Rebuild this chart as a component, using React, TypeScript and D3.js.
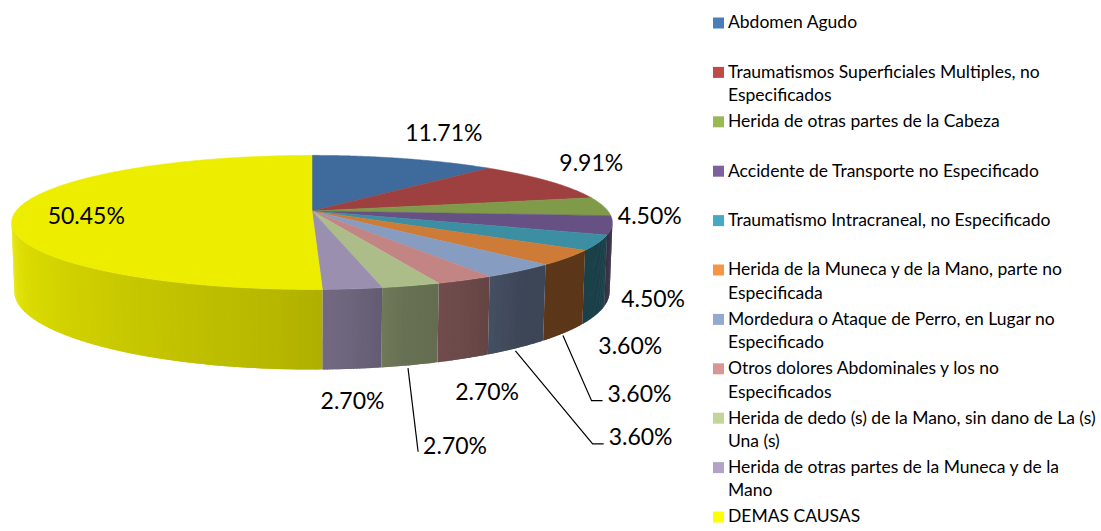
import { useEffect, useRef } from "react";
import * as d3 from "d3";

const categories = [
  "Abdomen Agudo",
  "Traumatismos Superficiales Multiples, no\nEspecificados",
  "Herida de otras partes de la Cabeza",
  "Accidente de Transporte no Especificado",
  "Traumatismo Intracraneal, no Especificado",
  "Herida de la Muneca y de la Mano, parte no\nEspecificada",
  "Mordedura o Ataque de Perro, en Lugar no\nEspecificado",
  "Otros dolores Abdominales y los no\nEspecificados",
  "Herida de dedo (s) de la Mano, sin dano de La (s)\nUna (s)",
  "Herida de otras partes de la Muneca y de la\nMano",
  "DEMAS CAUSAS",
];
const values = [11.71, 9.91, 4.5, 4.5, 3.6, 3.6, 3.6, 2.7, 2.7, 2.7, 50.45];
const labels = ["11.71%", "9.91%", "4.50%", "4.50%", "3.60%", "3.60%", "3.60%", "2.70%", "2.70%", "2.70%", "50.45%"];

const legendColors = ["#4a7ebb", "#be4b48", "#98b954", "#7d60a0", "#46aac5", "#f69546", "#94a8d0", "#d99694", "#c2d69a", "#b3a2c7", "#ffff00"];
const topColors = ["#3f6a9c", "#9d403f", "#7f9a48", "#675184", "#3c8ea3", "#cd7b37", "#879cc1", "#c38584", "#adbd8a", "#9b8fb0", "#eded00"];

// label centre offsets from the top rim point at each slice's middle angle
const labelOffsets = [[40, -26], [43, -18], [46, 9], [41, 73], [32, 103], [72, 136], [121, 166], [22, 112], [44, 160], [0, 112], [71, 4]];
// 0 = no leader, 1 = straight leader, 2 = leader with elbow
const leaders = [0, 0, 0, 0, 0, 2, 2, 0, 1, 0, 0];

const W = 1101;
const H = 531;

export default function App() {
  const ref = useRef<SVGSVGElement>(null);

  useEffect(() => {
    const svg = d3.select(ref.current);
    svg.selectAll("*").remove();

    const font = "Lato, 'Open Sans', sans-serif";

    // 3d pie projection
    const cx = 312, cy = 211, S = 296, D = 5.73, t = 0.235;
    const phi = Math.asin(0.22);
    const project = (theta: number, r: number, h: number): [number, number] => {
      const x = r * Math.sin(theta);
      const z = r * Math.cos(theta);
      const d = z * Math.cos(phi) - h * Math.sin(phi);
      const v = z * Math.sin(phi) + h * Math.cos(phi);
      const s = D / (D + d);
      return [cx + S * x * s, cy - S * v * s];
    };

    const arcs = d3.pie<number>().sort(null).value((d) => d)(values);

    const shade = d3
      .scaleLinear()
      .domain([90, 120, 142, 155, 165, 175, 185, 270])
      .range([0.4, 0.45, 0.45, 0.56, 0.6, 0.72, 0.77, 1.0])
      .clamp(true);

    const line = d3.line();
    const g = svg.append("g");

    // sides: thin overlapping quads on the front half, far ones first
    const lo = Math.acos(-Math.cos(phi) / D) - 0.01;
    const hi = 2 * Math.PI - lo;
    const step = Math.PI / 360;
    const quads: { pts: [number, number][]; depth: number; fill: string }[] = [];
    arcs.forEach((a, i) => {
      const s0 = Math.max(a.startAngle, lo);
      const s1 = Math.min(a.endAngle, hi);
      if (s1 <= s0) return;
      const n = Math.max(1, Math.ceil((s1 - s0) / step));
      const st = (s1 - s0) / n;
      const c = d3.rgb(topColors[i]);
      for (let k = 0; k < n; k++) {
        const t0 = s0 + k * st;
        const t1 = Math.min(s1, t0 + st * 1.8);
        const tm = t0 + st / 2;
        const f = shade((tm * 180) / Math.PI);
        quads.push({
          pts: [project(t0, 1, 0), project(t1, 1, 0), project(t1, 1, -t), project(t0, 1, -t)],
          depth: Math.cos(tm),
          fill: d3.rgb(c.r * f, c.g * f, c.b * f).formatHex(),
        });
      }
    });
    quads.sort((p, q) => q.depth - p.depth);

    g.selectAll("path.side")
      .data(quads)
      .enter()
      .append("path")
      .attr("class", "side")
      .attr("d", (q) => line(q.pts) + "Z")
      .attr("fill", (q) => q.fill);

    // tops
    g.selectAll("path.top")
      .data(arcs)
      .enter()
      .append("path")
      .attr("class", "top")
      .attr("d", (a) => {
        const n = Math.max(2, Math.ceil((a.endAngle - a.startAngle) / step));
        const pts: [number, number][] = [[cx, cy]];
        for (let k = 0; k <= n; k++) {
          pts.push(project(a.startAngle + ((a.endAngle - a.startAngle) * k) / n, 1, 0));
        }
        return line(pts) + "Z";
      })
      .attr("fill", (_, i) => topColors[i])
      .attr("stroke", (_, i) => topColors[i])
      .attr("stroke-width", 0.5);

    // data labels
    const lg = svg.append("g");
    arcs.forEach((a, i) => {
      const mid = (a.startAngle + a.endAngle) / 2;
      const [ax, ay] = project(mid, 1, 0);
      const lx = ax + labelOffsets[i][0];
      const ly = ay + labelOffsets[i][1];
      const txt = lg
        .append("text")
        .attr("x", lx)
        .attr("y", ly)
        .attr("dy", "0.36em")
        .attr("text-anchor", "middle")
        .attr("font-family", font)
        .attr("font-size", 23)
        .attr("fill", "#000")
        .text(labels[i]);
      if (leaders[i]) {
        const w = (txt.node() as SVGTextElement).getComputedTextLength();
        const left = lx - w / 2;
        const [bx, by] = project(mid, 1, -t);
        const pts: [number, number][] =
          leaders[i] === 2
            ? [[bx - 2, by + 3], [left - 16, ly + 7], [left - 5, ly + 7]]
            : [[bx - 2, by + 3], [left - 5, ly + 6]];
        lg.append("path")
          .attr("d", line(pts))
          .attr("fill", "none")
          .attr("stroke", "#000")
          .attr("stroke-width", 1.2);
      }
    });

    // legend
    const leg = svg.append("g");
    const legY = d3.scaleLinear().domain([0, categories.length - 1]).range([22, 516]);
    categories.forEach((c, i) => {
      const y = legY(i);
      leg.append("rect")
        .attr("x", 713)
        .attr("y", y - 4.5)
        .attr("width", 11)
        .attr("height", 11)
        .attr("fill", legendColors[i]);
      c.split("\n").forEach((ln, j) => {
        leg.append("text")
          .attr("x", 728)
          .attr("y", y + j * 23.5)
          .attr("dy", "0.36em")
          .attr("font-family", font)
          .attr("font-size", 17.5)
          .attr("fill", "#000")
          .text(ln);
      });
    });
  }, []);

  return (
    <svg
      ref={ref}
      width={W}
      height={H}
      style={{ position: "absolute", left: 0, top: 0, background: "#fff" }}
    />
  );
}
